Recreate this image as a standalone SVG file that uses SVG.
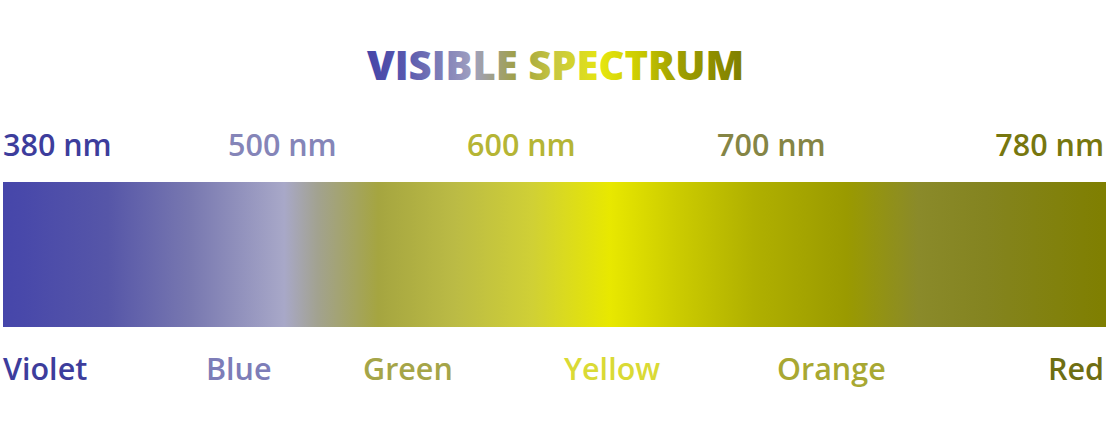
<svg xmlns="http://www.w3.org/2000/svg" width="1109" height="427" viewBox="0 0 1109 427">
<defs>
<linearGradient id="bar" gradientUnits="userSpaceOnUse" x1="3" y1="0" x2="1106" y2="0">
<stop offset="0" stop-color="#4646AA"/>
<stop offset="0.015" stop-color="#4848AA"/>
<stop offset="0.095" stop-color="#5656A8"/>
<stop offset="0.17" stop-color="#7878B0"/>
<stop offset="0.255" stop-color="#A8A8C8"/>
<stop offset="0.285" stop-color="#A2A290"/>
<stop offset="0.34" stop-color="#A5A540"/>
<stop offset="0.41" stop-color="#BBBB45"/>
<stop offset="0.48" stop-color="#D0D035"/>
<stop offset="0.55" stop-color="#E8E800"/>
<stop offset="0.61" stop-color="#CCCC00"/>
<stop offset="0.68" stop-color="#B0B000"/>
<stop offset="0.765" stop-color="#9A9A00"/>
<stop offset="0.83" stop-color="#8A8A2A"/>
<stop offset="0.89" stop-color="#848420"/>
<stop offset="1" stop-color="#7F7F00"/>
</linearGradient>
<linearGradient id="title" gradientUnits="userSpaceOnUse" x1="368" y1="0" x2="743" y2="0">
<stop offset="0" stop-color="#4646A8"/>
<stop offset="0.1" stop-color="#5858AE"/>
<stop offset="0.2" stop-color="#8080B8"/>
<stop offset="0.28" stop-color="#A0A0C0"/>
<stop offset="0.34" stop-color="#A0A080"/>
<stop offset="0.4" stop-color="#A0A040"/>
<stop offset="0.5" stop-color="#C8C840"/>
<stop offset="0.62" stop-color="#E6E610"/>
<stop offset="0.72" stop-color="#CCCC00"/>
<stop offset="0.82" stop-color="#A0A000"/>
<stop offset="1" stop-color="#7F7F00"/>
</linearGradient>
</defs>
<style>
text { font-family: "Open Sans", "Noto Sans", "Liberation Sans", sans-serif; font-weight: 600; font-size: 30.5px; }
.title { font-weight: 800; font-size: 40px; }
</style>
<rect width="1109" height="427" fill="#FFFFFF"/>
<g id="title-node">
<text class="title" x="555.5" y="80" text-anchor="middle" fill="url(#title)">VISIBLE SPECTRUM</text>
</g>
<g id="scale">
<text x="3" y="156" fill="#3D3D9C">380 nm</text>
<text x="228" y="156" fill="#8585B8">500 nm</text>
<text x="467" y="156" fill="#B5B535">600 nm</text>
<text x="717" y="156" fill="#858545">700 nm</text>
<text x="1104" y="156" text-anchor="end" fill="#77770F">780 nm</text>
</g>
<g id="spectrum-bar">
<rect x="3" y="182" width="1103" height="145" fill="url(#bar)"/>
</g>
<g id="colour-names">
<text x="3" y="380" fill="#3D3D9C">Violet</text>
<text x="206" y="380" fill="#7D7DB8">Blue</text>
<text x="363" y="380" fill="#A5A548">Green</text>
<text x="564" y="380" fill="#DADA35">Yellow</text>
<text x="777" y="380" fill="#A8A832">Orange</text>
<text x="1104" y="380" text-anchor="end" fill="#6E6E12">Red</text>
</g>
</svg>
